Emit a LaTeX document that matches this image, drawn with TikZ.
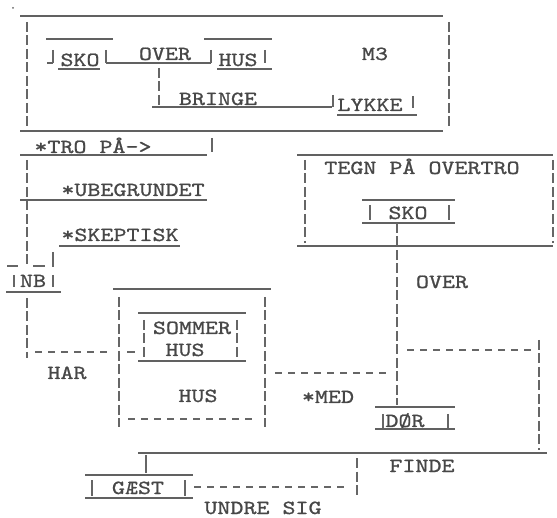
\documentclass[tikz,border=0pt]{standalone}
\usepackage{fontspec}
\newfontfamily\typew[FakeStretch=1.24,FakeBold=1]{lmmono10-regular.otf}
\usetikzlibrary{positioning}

\begin{document}
\begin{tikzpicture}[x=1pt,y=-1pt,
  txt/.style={font=\typew\fontsize{20}{22}\selectfont, text=black!72, inner sep=0pt, anchor=base},
  rule/.style={line width=1.5pt, draw=black!62},
  bar/.style={line width=1.1pt, draw=black!60, dash pattern=on 10pt off 3.5pt},
  hdash/.style={line width=1.1pt, draw=black!60, dash pattern=on 7pt off 6pt},
  tick/.style={line width=1.1pt, draw=black!60}]
  \useasboundingbox (0,0) rectangle (557,518);
  \fill[black!60] (13,8) circle (1pt);

  % M3 box
  \node[txt] (sko1)   at (80,66)   {SKO};
  \node[txt] (over1)  at (165,60)  {OVER};
  \node[txt] (hus1)   at (238,66)  {HUS};
  \node[txt] (m3)     at (375,60)  {M3};
  \node[txt] (bringe) at (218,105) {BRINGE};
  \node[txt] (lykke)  at (370,111) {LYKKE};
  \draw[rule] (20,16) -- (443,16);
  \draw[rule] (20,131) -- (443,131);
  \draw[bar] (27,22) -- (27,130);
  \draw[bar] (449,22) -- (449,128);
  \draw[rule] (46,39) -- (113,39);
  \draw[rule] (204,39) -- (272,39);
  \draw[rule] (47,63) -- (53,63);
  \draw[rule] (106,63) -- (211,63);
  \draw[tick] (53,50) -- (53,63);
  \draw[tick] (106,50) -- (106,63);
  \draw[tick] (211,50) -- (211,63);
  \draw[tick] (265,50) -- (265,63);
  \draw[rule] (58,69) -- (100,69);
  \draw[rule] (217,69) -- (272,69);
  \draw[bar] (159,68) -- (159,107);
  \draw[rule] (152,107) -- (332,107);
  \draw[tick] (333,95) -- (333,107);
  \draw[tick] (413,96) -- (413,108);
  \draw[rule] (337,115) -- (417,115);

  % left column
  \node[txt] (tro)   at (93,153)  {*TRO PÅ->};
  \node[txt] (ubeg)  at (133,196) {*UBEGRUNDET};
  \node[txt] (skep)  at (120,241) {*SKEPTISK};
  \node[txt] (nb)    at (33,287)  {NB};
  \node[txt] (har)   at (67,379)  {HAR};
  \draw[rule] (20,155) -- (207,155);
  \draw[tick] (212,138) -- (212,152);
  \draw[bar] (27,160) -- (27,268);
  \draw[rule] (20,200) -- (207,200);
  \draw[rule] (59,246) -- (180,246);
  \draw[tick] (7,266) -- (18,266);
  \draw[tick] (33,266) -- (45,266);
  \draw[tick] (53,252) -- (53,267);
  \draw[tick] (14,275) -- (14,287);
  \draw[tick] (53,275) -- (53,287);
  \draw[rule] (6,292) -- (61,292);
  \draw[bar] (27,298) -- (27,358);
  \draw[hdash] (35,352) -- (112,352);
  \draw[tick] (127,352) -- (135,352);

  % HUS box
  \node[txt] (sommer) at (192,334) {SOMMER};
  \node[txt] (hus2)   at (185,356) {HUS};
  \node[txt] (hus3)   at (198,402) {HUS};
  \draw[rule] (113,289) -- (271,289);
  \draw[bar] (119,297) -- (119,427);
  \draw[bar] (265,297) -- (265,427);
  \draw[hdash] (128,419) -- (258,419);
  \draw[rule] (138,313) -- (246,313);
  \draw[bar] (144,320) -- (144,358);
  \draw[bar] (237,320) -- (237,358);
  \draw[rule] (138,361) -- (246,361);

  % TEGN box
  \node[txt] (tegn)  at (422,174) {TEGN PÅ OVERTRO};
  \node[txt] (sko2)  at (408,219) {SKO};
  \draw[rule] (297,155) -- (553,155);
  \draw[rule] (297,246) -- (553,246);
  \draw[bar] (305,160) -- (305,243);
  \draw[bar] (553,160) -- (553,243);
  \draw[rule] (362,200) -- (455,200);
  \draw[tick] (370,205) -- (370,220);
  \draw[tick] (449,205) -- (449,220);
  \draw[rule] (362,223) -- (455,223);

  % right and bottom
  \node[txt] (over2) at (442,288) {OVER};
  \node[txt] (med)   at (328,403) {*MED};
  \node[txt] (dor)   at (405,427) {DØR};
  \node[txt] (finde) at (422,472) {FINDE};
  \node[txt] (gaest) at (138,494) {GÆST};
  \node[txt] (undre) at (263,514) {UNDRE SIG};
  \draw[bar] (397,223) -- (397,405);
  \draw[hdash] (275,373) -- (390,373);
  \draw[hdash] (407,350) -- (532,350);
  \draw[bar] (539,340) -- (539,450);
  \draw[rule] (375,407) -- (455,407);
  \draw[tick] (383,414) -- (383,428);
  \draw[tick] (448,414) -- (448,428);
  \draw[rule] (375,429) -- (455,429);
  \draw[rule] (138,453) -- (547,453);
  \draw[bar] (357,458) -- (357,495);
  \draw[hdash] (194,487) -- (350,487);
  \draw[tick] (146,455) -- (146,473);
  \draw[rule] (85,475) -- (193,475);
  \draw[tick] (92,480) -- (92,496);
  \draw[tick] (185,480) -- (185,496);
  \draw[rule] (85,498) -- (193,498);
\end{tikzpicture}
\end{document}
